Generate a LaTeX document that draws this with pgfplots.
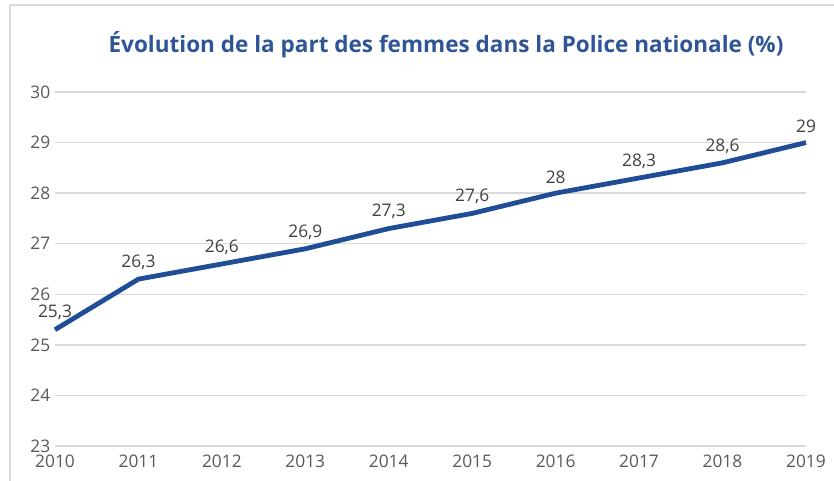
\documentclass[border=0pt]{standalone}
\usepackage{fontspec}
\setmainfont{Open Sans}
\usepackage{pgfplots}
\pgfplotsset{compat=1.18}
\definecolor{titleblue}{HTML}{2F5597}
\definecolor{lineblue}{HTML}{1F4E96}
\definecolor{gridgray}{HTML}{D9D9D9}
\definecolor{ticktext}{HTML}{595959}
\definecolor{labeltext}{HTML}{404040}
\begin{document}
\begin{tikzpicture}
\begin{scope}[x=0.75pt,y=-0.75pt]
\path[use as bounding box] (0,0) rectangle (834,481);
\draw[gridgray, line width=1.5pt] (10,5) -- (834,5);
\draw[gridgray, line width=1.5pt] (10,5) -- (10,481);
\node[font=\bfseries\fontsize{16.9}{18}\selectfont, text=titleblue] at (446,45) {Évolution de la part des femmes dans la Police nationale (\%)};
\end{scope}
\begin{axis}[
  at={(41.25pt,-334.5pt)}, anchor=south west,
  scale only axis, width=563.25pt, height=265.5pt,
  xmin=2010, xmax=2019, ymin=23, ymax=30,
  clip=false,
  axis line style={draw=none},
  tick style={draw=none},
  xtick={2010,...,2019}, ytick={23,...,30},
  ymajorgrids, grid style={gridgray, line width=1.1pt},
  xticklabel style={/pgf/number format/1000 sep={}, font=\fontsize{13}{15}\selectfont, text=ticktext, yshift=-3.5pt},
  yticklabel style={font=\fontsize{13}{15}\selectfont, text=ticktext, xshift=0pt},
  /pgf/number format/assume math mode=true,
  x tick label style={/pgf/number format/1000 sep={}},
  nodes near coords,
  every node near coord/.append style={font=\fontsize{13}{15}\selectfont, text=labeltext, /pgf/number format/use comma, /pgf/number format/assume math mode=true, yshift=2pt},
]
\addplot[lineblue, line width=3.6pt, line join=round, mark=none] coordinates {
(2010,25.3) (2011,26.3) (2012,26.6) (2013,26.9) (2014,27.3) (2015,27.6) (2016,28) (2017,28.3) (2018,28.6) (2019,29)
};
\end{axis}
\end{tikzpicture}
\end{document}
